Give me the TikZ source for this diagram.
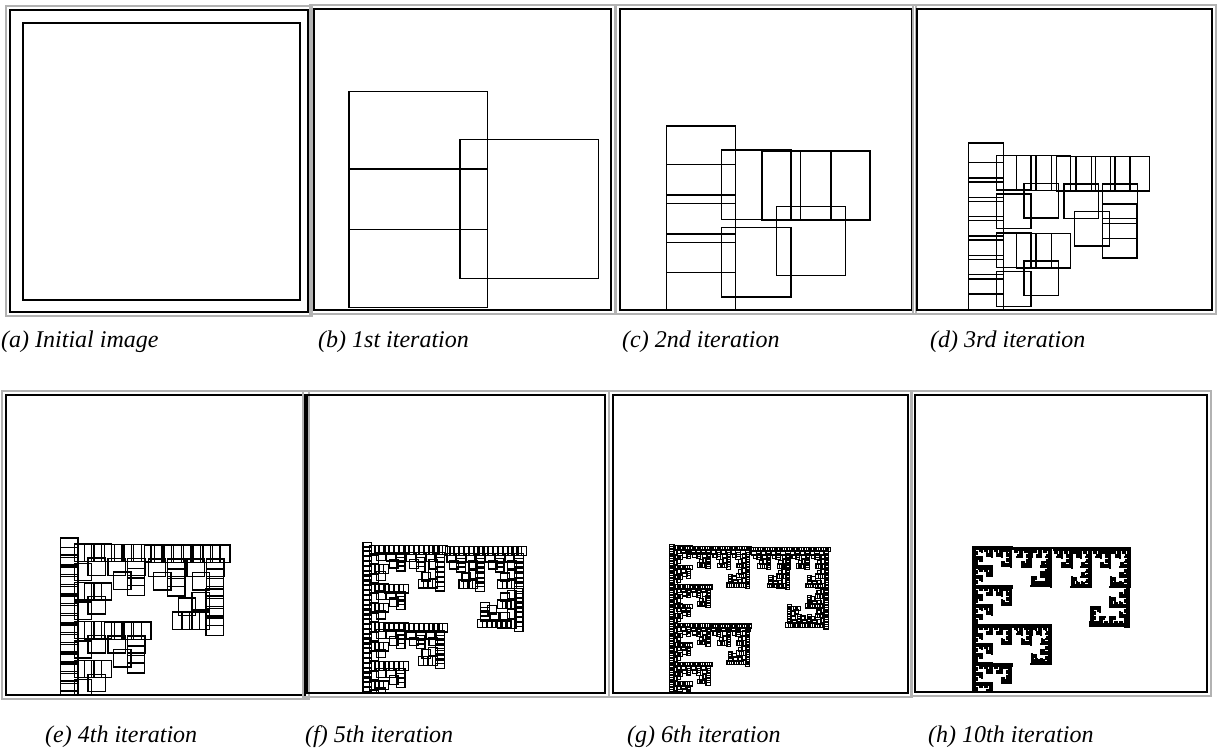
\documentclass[tikz,border=0pt]{standalone}
\usepackage{fontspec}
\setmainfont{Liberation Serif}
\tikzset{
  frameout/.style={draw=gray!60, line width=2.5pt},
  framein/.style={draw=black, line width=1.5pt},
  sq/.style={draw=black, line width=1.4pt},
  sqmid/.style={draw=black, line width=1.25pt},
  sqthin/.style={draw=black, line width=1.15pt},
  hfill/.style={fill=black, draw=black, line width=0.9pt},
  captext/.style={anchor=base west, inner sep=0pt, font=\itshape\fontsize{24}{28}\selectfont},
}
% leaf: image of the unit square under x -> o + M x, M columns (#3,#4),(#5,#6); pixel coords, y down
\newcommand\ifsleaf[6]{%
  \edef\ifstmp{\noexpand\path[\ifsstyle]
    (\the\dimexpr #1\relax,\the\dimexpr 0pt-(#2)\relax) --
    (\the\dimexpr #1+(#3)\relax,\the\dimexpr 0pt-(#2)-(#4)\relax) --
    (\the\dimexpr #1+(#3)+(#5)\relax,\the\dimexpr 0pt-(#2)-(#4)-(#6)\relax) --
    (\the\dimexpr #1+(#5)\relax,\the\dimexpr 0pt-(#2)-(#6)\relax) -- cycle;}%
  \ifstmp}
\newcommand\ifsrec[7]{%
  \ifnum#1=0
    \ifsleaf{#2}{#3}{#4}{#5}{#6}{#7}%
  \else
    \begingroup
    \edef\ifsd{\the\numexpr#1-1\relax}%
    % map A: x/2 + (0.08,0.25)
    \edef\ifsnext{\noexpand\ifsrec{\ifsd}%
      {\the\dimexpr #2+(#4)*2/25+(#6)/4\relax}%
      {\the\dimexpr #3+(#5)*2/25+(#7)/4\relax}%
      {\the\dimexpr (#4)/2\relax}{\the\dimexpr (#5)/2\relax}%
      {\the\dimexpr (#6)/2\relax}{\the\dimexpr (#7)/2\relax}}%
    \ifsnext
    % map B: x/2 + (0.08,-0.03)
    \edef\ifsnext{\noexpand\ifsrec{\ifsd}%
      {\the\dimexpr #2+(#4)*2/25-(#6)*3/100\relax}%
      {\the\dimexpr #3+(#5)*2/25-(#7)*3/100\relax}%
      {\the\dimexpr (#4)/2\relax}{\the\dimexpr (#5)/2\relax}%
      {\the\dimexpr (#6)/2\relax}{\the\dimexpr (#7)/2\relax}}%
    \ifsnext
    % map C: clockwise quarter turn, x/2, + (0.48,0.575)
    \edef\ifsnext{\noexpand\ifsrec{\ifsd}%
      {\the\dimexpr #2+(#4)*12/25+(#6)*23/40\relax}%
      {\the\dimexpr #3+(#5)*12/25+(#7)*23/40\relax}%
      {\the\dimexpr 0pt-(#6)/2\relax}{\the\dimexpr 0pt-(#7)/2\relax}%
      {\the\dimexpr (#4)/2\relax}{\the\dimexpr (#5)/2\relax}}%
    \ifsnext
    \endgroup
  \fi}
% panel: #1 L, #2 T, #3 R, #4 B, #5 depth, #6 style
\newcommand\ifspanel[6]{%
  \draw[frameout] (#1-4,#2-4) rectangle (#3+4,#4+4);
  \begin{scope}
    \clip (#1,#2) rectangle (#3,#4);
    \def\ifsstyle{#6}%
    \ifsrec{#5}{\the\dimexpr #1pt+13pt\relax}{\the\dimexpr #2pt+290pt\relax}{277pt}{0pt}{0pt}{-277pt}%
  \end{scope}
  \draw[framein] (#1,#2) rectangle (#3,#4);
}
\begin{document}
\begin{tikzpicture}[x=1pt,y=-1pt]
\useasboundingbox (0,0) rectangle (1217,751);
\ifspanel{10}{10}{308}{312}{0}{sq}
\ifspanel{314}{9}{611}{310}{1}{sq}
\ifspanel{620}{9}{912}{310}{2}{sq}
\ifspanel{917}{9}{1212}{310}{3}{sq}
\ifspanel{6}{395}{305}{695}{4}{sq}
\ifspanel{307}{395}{605}{693}{5}{sqmid}
\ifspanel{613}{395}{908}{693}{6}{sqthin}
\ifspanel{915}{395}{1207}{692}{8}{hfill}
\node[captext] (ca) at (1,347) {(a) Initial image};
\node[captext] (cb) at (318,347) {(b) 1st iteration};
\node[captext] (cc) at (622,347) {(c) 2nd iteration};
\node[captext] (cd) at (930,347) {(d) 3rd iteration};
\node[captext] (ce) at (45,742) {(e) 4th iteration};
\node[captext] (cf) at (305,742) {(f) 5th iteration};
\node[captext] (cg) at (627,742) {(g) 6th iteration};
\node[captext] (ch) at (928,742) {(h) 10th iteration};
\end{tikzpicture}
\end{document}
